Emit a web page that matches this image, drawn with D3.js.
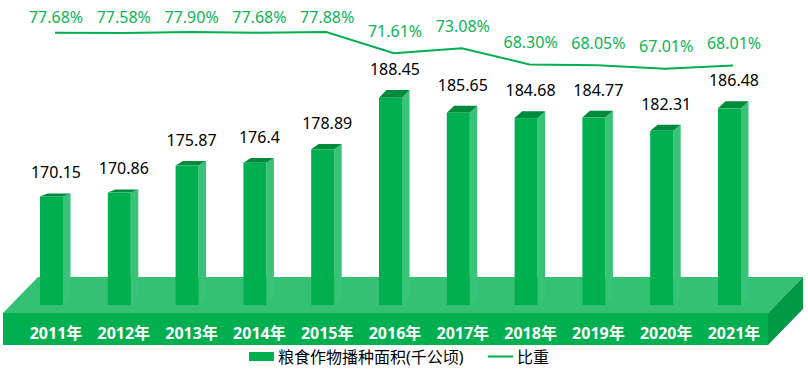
<!DOCTYPE html>
<html><head><meta charset="utf-8">
<script src="https://cdn.jsdelivr.net/npm/d3@7"></script>
<style>html,body{margin:0;padding:0;background:#fff;}svg{display:block;}</style>
</head><body>
<svg id="chart" width="808" height="370"></svg>
<script>
const categories = ["2011年","2012年","2013年","2014年","2015年","2016年","2017年","2018年","2019年","2020年","2021年"];
const areaValues = [170.15,170.86,175.87,176.4,178.89,188.45,185.65,184.68,184.77,182.31,186.48];
const areaLabels = ["170.15","170.86","175.87","176.4","178.89","188.45","185.65","184.68","184.77","182.31","186.48"];
const ratioValues = [77.68,77.58,77.90,77.68,77.88,71.61,73.08,68.30,68.05,67.01,68.01];
const ratioLabels = ["77.68%","77.58%","77.90%","77.68%","77.88%","71.61%","73.08%","68.30%","68.05%","67.01%","68.01%"];
const seriesNames = ["粮食作物播种面积(千公顷)","比重"];

const svg = d3.select("#chart");
const font = "'Noto Sans','Noto Sans CJK SC',sans-serif";
const green = "#00b050", sideColor = "#38c378", topColor = "#008a3c";

const x = d3.scalePoint().domain(categories).range([55, 733]);
const y = d3.scaleLinear().domain([150, 200]).range([305, 35.5]);
const y2 = d3.scaleLinear().domain([60, 80]).range([92.6, 24.8]);

// platform
const pL = 3, pR = 768, pTop = 313, pBot = 345, dx = 35, dy = -36;
svg.append("polygon").attr("fill", "#35c173")
  .attr("points", [[pL,pTop],[pL+dx,pTop+dy],[pR+dx,pTop+dy],[pR,pTop]].join(" "));
svg.append("polygon").attr("fill", "#009a46")
  .attr("points", [[pR,pTop],[pR+dx,pTop+dy],[pR+dx,pBot+dy],[pR,pBot]].join(" "));
svg.append("rect").attr("x", pL).attr("y", pTop).attr("width", pR-pL).attr("height", pBot-pTop).attr("fill", green);

// bars (perspective: taller bars show a deeper top face)
const fw = 23, sw = 7.5;
const depth = yt => -(3 + Math.max(0, 196 - yt) * 0.048);
const g = svg.append("g");
categories.forEach((c, i) => {
  const cx = x(c), x0 = cx - 15, x1 = x0 + fw, yt = y(areaValues[i]), yb = y(150);
  const bdy = depth(yt);
  g.append("polygon").attr("fill", sideColor)
    .attr("points", [[x1,yt],[x1+sw,yt+bdy],[x1+sw,yb-7],[x1,yb]].join(" "));
  g.append("polygon").attr("fill", topColor)
    .attr("points", [[x0,yt],[x0+sw,yt+bdy],[x1+sw,yt+bdy],[x1,yt]].join(" "));
  g.append("rect").attr("x", x0).attr("y", yt).attr("width", fw).attr("height", yb-yt).attr("fill", green);
  g.append("text").attr("x", cx + 1).attr("y", yt + bdy - 15)
    .attr("text-anchor", "middle").attr("font-family", font).attr("font-size", 16).attr("fill", "#000")
    .text(areaLabels[i]);
  svg.append("text").attr("x", cx + 1).attr("y", 338.5)
    .attr("text-anchor", "middle").attr("font-family", font).attr("font-size", 16).attr("font-weight", "bold").attr("fill", "#fff")
    .text(c);
});

// line
const line = d3.line().x((d, i) => x(categories[i])).y(d => y2(d));
svg.append("path").datum(ratioValues).attr("d", line).attr("fill", "none").attr("stroke", green).attr("stroke-width", 2);
ratioValues.forEach((v, i) => {
  svg.append("text").attr("x", x(categories[i]) + 1).attr("y", Math.max(y2(v) - 16.5, 23))
    .attr("text-anchor", "middle").attr("font-family", font).attr("font-size", 16).attr("fill", "#0db358")
    .text(ratioLabels[i]);
});

// legend
svg.append("rect").attr("x", 249).attr("y", 352).attr("width", 25).attr("height", 9).attr("fill", green);
svg.append("text").attr("x", 278).attr("y", 363).attr("font-family", font).attr("font-size", 16).attr("fill", "#000").text(seriesNames[0]);
svg.append("line").attr("x1", 488).attr("x2", 513).attr("y1", 356.5).attr("y2", 356.5).attr("stroke", green).attr("stroke-width", 2);
svg.append("text").attr("x", 517).attr("y", 363).attr("font-family", font).attr("font-size", 16).attr("fill", "#000").text(seriesNames[1]);
</script>
</body></html>
